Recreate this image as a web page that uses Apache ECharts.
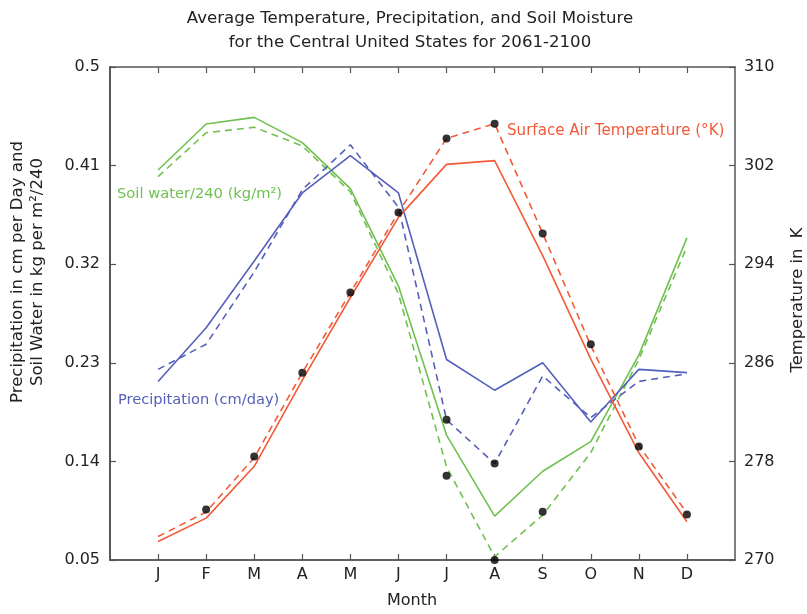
<!DOCTYPE html>
<html>
<head>
<meta charset="utf-8">
<script src="https://cdn.jsdelivr.net/npm/echarts@6/dist/echarts.min.js"></script>
<style>html,body{margin:0;padding:0;background:#fff;}#c{width:807px;height:614px;}</style>
</head>
<body>
<div id="c"></div>
<script>
const months = ['J','F','M','A','M','J','J','A','S','O','N','D'];
const leftTicks = [0.05, 0.14, 0.23, 0.32, 0.41, 0.5];
const rightTicks = [270, 278, 286, 294, 302, 310];

const soilSolid  = [0.406, 0.448, 0.454, 0.431, 0.389, 0.300, 0.164, 0.090, 0.131, 0.158, 0.237, 0.344];
const soilDashed = [0.400, 0.440, 0.445, 0.428, 0.386, 0.293, 0.135, 0.053, 0.091, 0.148, 0.233, 0.336];
const precipSolid  = [0.213, 0.262, 0.323, 0.385, 0.419, 0.385, 0.233, 0.205, 0.230, 0.176, 0.224, 0.221];
const precipDashed = [0.224, 0.247, 0.313, 0.388, 0.429, 0.372, 0.178, 0.138, 0.218, 0.180, 0.213, 0.220];
const tempSolid  = [271.5, 273.4, 277.6, 284.6, 291.3, 297.8, 302.1, 302.4, 294.7, 286.3, 278.7, 273.1];
const tempDashed = [271.9, 273.9, 278.3, 285.2, 291.7, 298.2, 304.2, 305.4, 296.5, 287.4, 279.3, 273.8];
const dotMonthsTemp = [2, 3, 4, 5, 6, 7, 8, 9, 10, 11, 12];
const dotValuesTemp = [274.1, 278.4, 285.2, 291.7, 298.2, 304.2, 305.4, 296.5, 287.5, 279.2, 273.7];
const dotMonthsLeft = [7, 7, 8, 8, 9];
const dotValuesLeft = [0.178, 0.127, 0.138, 0.050, 0.094];

const GREEN = '#70c050', BLUE = '#5560bb', RED = '#f25a38', AX = '#555';
const FONT = '"DejaVu Sans", sans-serif';
const monthIdx = months.map((_, i) => i + 1);
const pairs = (vals) => vals.map((v, i) => [i + 1, v]);
const zip = (xs, ys) => xs.map((x, i) => [x, ys[i]]);

function lineSeries(name, vals, color, dashed, yIdx) {
  return {
    name, type: 'line', xAxisIndex: 0, yAxisIndex: yIdx,
    data: pairs(vals), symbol: 'none', silent: true, animation: false,
    lineStyle: { color, width: 1.6, type: dashed ? [7, 5] : 'solid' }
  };
}
const axLine = { show: true, lineStyle: { color: AX, width: 1.5 } };
const tickIn = (vals) => ({ show: true, inside: true, length: 6, lineStyle: { color: AX, width: 1.2 }, customValues: vals });
const noTick = { show: false };
const noLabel = { show: false };
const noSplit = { show: false };
const xBase = { type: 'value', min: 0, max: 13, interval: 1, splitLine: noSplit };
const yLeftBase = { type: 'value', min: 0.05, max: 0.5, splitLine: noSplit };
const yRightBase = { type: 'value', min: 270, max: 310, splitLine: noSplit };

const chart = echarts.init(document.getElementById('c'), null, { renderer: 'canvas' });
chart.setOption({
  animation: false,
  backgroundColor: '#fff',
  grid: { left: 110, right: 72, top: 67, bottom: 54, containLabel: false },
  xAxis: [
    Object.assign({}, xBase, {
      position: 'bottom', axisLine: axLine, axisTick: noTick,
      axisLabel: { show: true, customValues: monthIdx, formatter: v => months[v - 1] || '', color: '#222', fontSize: 16, fontFamily: FONT, margin: 7 }
    }),
    Object.assign({}, xBase, { position: 'top', axisLine: axLine, axisTick: tickIn(monthIdx), axisLabel: noLabel }),
    Object.assign({}, xBase, { position: 'bottom', axisLine: axLine, axisTick: tickIn(monthIdx), axisLabel: noLabel })
  ],
  yAxis: [
    Object.assign({}, yLeftBase, {
      position: 'left', axisLine: axLine, axisTick: noTick,
      axisLabel: { show: true, customValues: leftTicks, formatter: v => String(+v.toFixed(2)), color: '#222', fontSize: 16, fontFamily: FONT, margin: 10 }
    }),
    Object.assign({}, yRightBase, {
      position: 'right', axisLine: axLine, axisTick: noTick,
      axisLabel: { show: true, customValues: rightTicks, color: '#222', fontSize: 16, fontFamily: FONT, margin: 9 }
    }),
    Object.assign({}, yLeftBase, { position: 'left', axisLine: axLine, axisTick: tickIn(leftTicks), axisLabel: noLabel }),
    Object.assign({}, yRightBase, { position: 'right', axisLine: axLine, axisTick: tickIn(rightTicks), axisLabel: noLabel })
  ],
  series: [
    lineSeries('Soil water', soilSolid, GREEN, false, 0),
    lineSeries('Soil water (dashed)', soilDashed, GREEN, true, 0),
    lineSeries('Precipitation', precipSolid, BLUE, false, 0),
    lineSeries('Precipitation (dashed)', precipDashed, BLUE, true, 0),
    lineSeries('Surface Air Temperature', tempSolid, RED, false, 1),
    lineSeries('Surface Air Temperature (dashed)', tempDashed, RED, true, 1),
    {
      name: 'dots temp', type: 'scatter', xAxisIndex: 0, yAxisIndex: 1,
      data: zip(dotMonthsTemp, dotValuesTemp), symbol: 'circle', symbolSize: 8,
      itemStyle: { color: '#000' }, silent: true, z: 5
    },
    {
      name: 'dots left', type: 'scatter', xAxisIndex: 0, yAxisIndex: 0,
      data: zip(dotMonthsLeft, dotValuesLeft), symbol: 'circle', symbolSize: 8,
      itemStyle: { color: '#000' }, silent: true, z: 5, clip: false
    }
  ],
  graphic: [
    { type: 'text', x: 410, y: 19, style: { text: 'Average Temperature, Precipitation, and Soil Moisture', fill: '#222', font: '16.6px ' + FONT, textAlign: 'center', textVerticalAlign: 'middle' } },
    { type: 'text', x: 410, y: 43, style: { text: 'for the Central United States for 2061-2100', fill: '#222', font: '16.6px ' + FONT, textAlign: 'center', textVerticalAlign: 'middle' } },
    { type: 'text', x: 412, y: 601, style: { text: 'Month', fill: '#222', font: '16px ' + FONT, textAlign: 'center', textVerticalAlign: 'middle' } },
    { type: 'text', x: 28, y: 272, rotation: Math.PI / 2, style: { text: 'Precipitation in cm per Day and\nSoil Water in kg per m²/240', fill: '#222', font: '16.6px ' + FONT, lineHeight: 20, textAlign: 'center', textVerticalAlign: 'middle' } },
    { type: 'text', x: 798, y: 300, rotation: Math.PI / 2, style: { text: 'Temperature in  K', fill: '#222', font: '16.4px ' + FONT, textAlign: 'center', textVerticalAlign: 'middle' } },
    { type: 'text', x: 117, y: 194, style: { text: 'Soil water/240 (kg/m²)', fill: GREEN, font: '14.7px ' + FONT, textAlign: 'left', textVerticalAlign: 'middle' } },
    { type: 'text', x: 118, y: 400, style: { text: 'Precipitation (cm/day)', fill: BLUE, font: '14.6px ' + FONT, textAlign: 'left', textVerticalAlign: 'middle' } },
    { type: 'text', x: 507, y: 131, style: { text: 'Surface Air Temperature (°K)', fill: RED, font: '15.1px ' + FONT, textAlign: 'left', textVerticalAlign: 'middle' } }
  ]
});
</script>
</body>
</html>
